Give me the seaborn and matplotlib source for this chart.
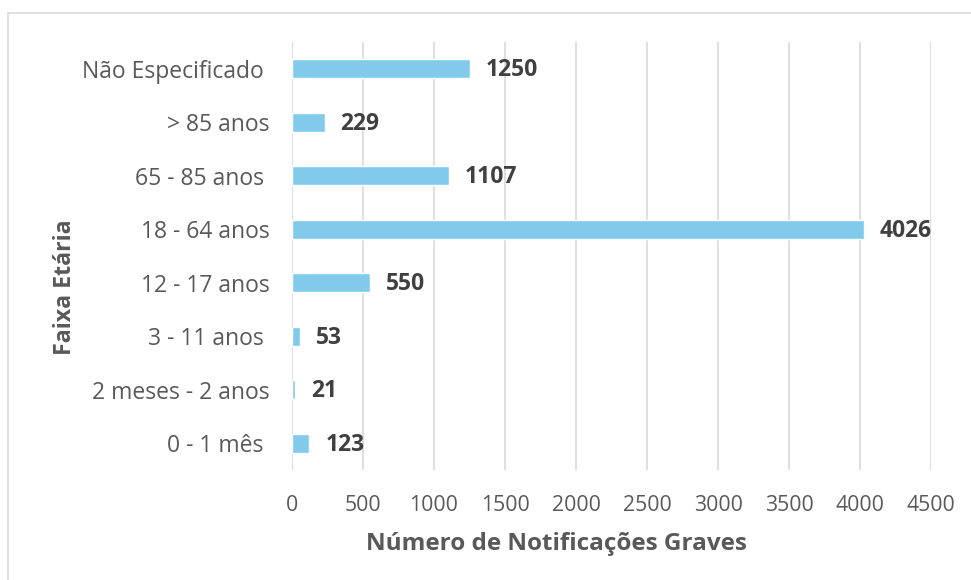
import matplotlib
matplotlib.use("Agg")
import matplotlib.pyplot as plt
import seaborn as sns
import pandas as pd
from matplotlib.patches import Rectangle

# data
categories = ["Não Especificado ", "> 85 anos", "65 - 85 anos ", "18 - 64 anos",
              "12 - 17 anos", "3 - 11 anos ", "2 meses - 2 anos", "0 - 1 mês "]
counts = [1250, 229, 1107, 4026, 550, 53, 21, 123]
xticks = [0, 500, 1000, 1500, 2000, 2500, 3000, 3500, 4000, 4500]

df = pd.DataFrame({"faixa": categories, "n": counts})

sns.set_style("white")
plt.rcParams["font.family"] = ["Open Sans", "DejaVu Sans"]

fig = plt.figure(figsize=(9.71, 5.80), dpi=100)
ax = fig.add_axes([292/971, 1-470/580, (931-292)/971, (470-42)/580])

sns.barplot(data=df, y="faixa", x="n", orient="h", color="#82CAEB",
            width=0.36, saturation=1, ax=ax)

# value labels next to each bar
for i, v in enumerate(counts):
    ax.annotate(str(v), (v, i), xytext=(11.5, -1), textcoords="offset points",
                ha="left", va="center", fontsize=16.5, fontweight="bold", color="#404040")

ax.set_xlim(0, 4500)
ax.set_ylim(7.5, -0.5)
ax.set_xticks(xticks)
ax.set_xticklabels([str(t) for t in xticks])
ax.grid(axis="x", color="#D9D9D9", linewidth=1.2)
ax.set_axisbelow(True)
for s in ax.spines.values():
    s.set_visible(False)
ax.tick_params(axis="x", length=0, pad=18, labelsize=15.3, labelcolor="#595959")
ax.tick_params(axis="y", length=0, pad=16, labelsize=16.5, labelcolor="#595959")
ax.set_xlabel("")
ax.set_ylabel("")

fig.text(556/971, 1-544/580, "Número de Notificações Graves", ha="center", va="center",
         fontsize=17.5, fontweight="bold", color="#595959")
fig.text(65/971, 1-287/580, "Faixa Etária", ha="center", va="center", rotation=90,
         fontsize=16.7, fontweight="bold", color="#595959")

# chart frame
fig.patches.append(Rectangle((8/971, -0.05), 1.1, 1-13/580+0.05, transform=fig.transFigure,
                             fill=False, edgecolor="#D9D9D9", linewidth=1.2))

fig.savefig("out.png", dpi=100, facecolor="white")
